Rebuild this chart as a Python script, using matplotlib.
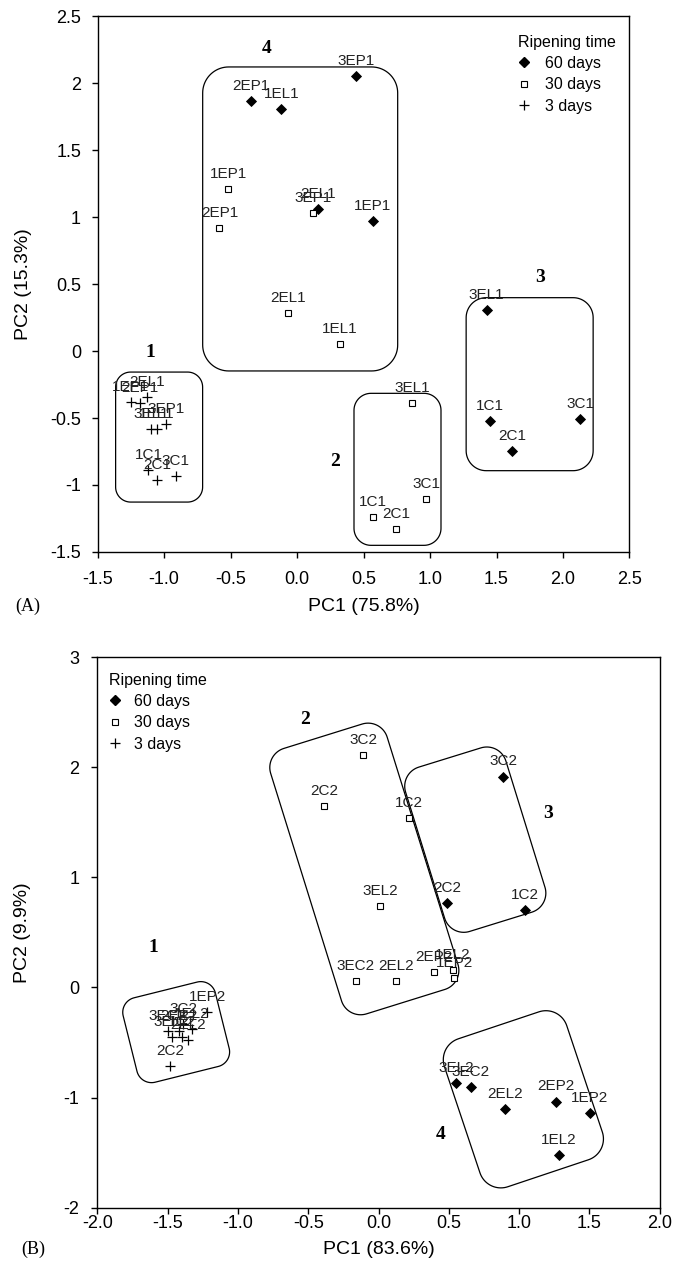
import numpy as np
import matplotlib
matplotlib.use("Agg")
import matplotlib.pyplot as plt
from matplotlib.lines import Line2D
from matplotlib.patches import PathPatch
from matplotlib.path import Path
from matplotlib.transforms import Affine2D, ScaledTranslation

plt.rcParams['font.family'] = ['Liberation Sans', 'DejaVu Sans']
plt.rcParams['axes.unicode_minus'] = False

# ---- panel A (PCA, first season) ----
a60_names = ["3EP1", "2EP1", "1EL1", "2EL1", "1EP1", "3EL1", "1C1", "2C1", "3C1"]
a60_x = [0.441, -0.346, -0.118, 0.160, 0.569, 1.426, 1.451, 1.619, 2.128]
a60_y = [2.051, 1.868, 1.811, 1.063, 0.973, 0.305, -0.520, -0.745, -0.505]

a30_names = ["1EP1", "2EP1", "3EP1", "2EL1", "1EL1", "3EL1", "3C1", "1C1", "2C1"]
a30_x = [-0.517, -0.584, 0.118, -0.068, 0.321, 0.867, 0.970, 0.569, 0.744]
a30_y = [1.213, 0.920, 1.028, 0.281, 0.053, -0.387, -1.105, -1.238, -1.328]

a3_names = ["1EP1", "2EP1", "2EL1", "3EP1", "3EL1", "1EL1", "1C1", "2C1", "3C1"]
a3_x = [-1.250, -1.180, -1.126, -0.985, -1.100, -1.055, -1.118, -1.055, -0.912]
a3_y = [-0.380, -0.387, -0.342, -0.542, -0.580, -0.580, -0.887, -0.962, -0.930]

# ---- panel B (PCA, second season) ----
b60_names = ["3C2", "2C2", "1C2", "3EL2", "3EC2", "2EL2", "2EP2", "1EP2", "1EL2"]
b60_x = [0.886, 0.488, 1.040, 0.554, 0.654, 0.898, 1.260, 1.502, 1.284]
b60_y = [1.915, 0.770, 0.704, -0.870, -0.906, -1.104, -1.037, -1.137, -1.521]

b30_names = ["3C2", "2C2", "1C2", "3EL2", "3EC2", "2EL2", "2EP2", "1EL2", "1EP2"]
b30_x = [-0.109, -0.389, 0.218, 0.009, -0.161, 0.123, 0.395, 0.526, 0.537]
b30_y = [2.112, 1.649, 1.537, 0.740, 0.059, 0.059, 0.141, 0.159, 0.089]

b3_names = ["1EP2", "3C2", "3EC2", "1EL2", "2EP2", "2EL2", "1C2", "3EL2", "2C2"]
b3_x = [-1.218, -1.389, -1.500, -1.330, -1.420, -1.353, -1.400, -1.471, -1.483]
b3_y = [-0.220, -0.334, -0.400, -0.380, -0.400, -0.477, -0.450, -0.447, -0.713]

legend_labels = ["60 days", "30 days", "3 days"]

# cluster outlines: centre (data), width/height/radius (pixels), rotation (deg)
a_boxes = [(0.023, 0.987, 195, 304, 0, 26), (-1.038, -0.642, 87, 130, 0, 15),
           (0.755, -0.883, 87, 152, 0, 17), (1.749, -0.247, 127, 173, 0, 20)]
b_boxes = [(-1.439, -0.406, 95, 87, 14, 15), (-0.101, 1.076, 122, 278, 17.3, 20),
           (0.688, 1.342, 105, 172, 17.2, 20), (1.030, -1.016, 129, 156, 18.5, 22)]
a_cluster = [("1", -1.105, -0.012), ("2", 0.286, -0.825), ("3", 1.827, 0.551), ("4", -0.231, 2.26)]
b_cluster = [("1", -1.60, 0.36), ("2", -0.519, 2.43), ("3", 1.205, 1.582), ("4", 0.443, -1.340)]


def rounded_rect(w, h, r, n=20):
    pts = []
    for cx, cy, a0 in [(w/2 - r, h/2 - r, 0), (-w/2 + r, h/2 - r, 90),
                       (-w/2 + r, -h/2 + r, 180), (w/2 - r, -h/2 + r, 270)]:
        t = np.radians(np.linspace(a0, a0 + 90, n))
        pts += list(zip(cx + r*np.cos(t), cy + r*np.sin(t)))
    pts.append(pts[0])
    return Path(pts, closed=True)


def draw_box(ax, cx, cy, w, h, ang, r):
    tr = Affine2D().rotate_deg(ang) + ScaledTranslation(cx, cy, ax.transData)
    ax.add_patch(PathPatch(rounded_rect(w, h, r), transform=tr, fc='none',
                           ec='black', lw=0.9, clip_on=False))


def scatter_group(ax, xs, ys, names, marker, ms, mfc, mew):
    ax.plot(xs, ys, ls='none', marker=marker, ms=ms, mfc=mfc, mec='black',
            color='black', mew=mew, zorder=3)
    for n, x, y in zip(names, xs, ys):
        ax.annotate(n, (x, y), xytext=(0, 8), textcoords='offset points',
                    ha='center', va='baseline', fontsize=11, color='#222222')


def panel(ax, groups, boxes, clusters):
    scatter_group(ax, *groups[0], 'D', 5.4, 'black', 0.6)
    scatter_group(ax, *groups[1], 's', 5.0, 'white', 0.8)
    scatter_group(ax, *groups[2], '+', 7.5, 'black', 0.9)
    for b in boxes:
        draw_box(ax, *b)
    for t, x, y in clusters:
        ax.text(x, y, t, family=['Liberation Serif'], fontweight='bold',
                fontsize=14, ha='center', va='center')
    for s in ax.spines.values():
        s.set_linewidth(1.0)
    ax.tick_params(direction='out', length=4, width=1.0, labelsize=13)


fig = plt.figure(figsize=(6.9, 12.7), dpi=100)

axA = fig.add_axes([0.1416, 0.5654, 0.7707, 0.4217])
axA.set_xlim(-1.5, 2.5)
axA.set_ylim(-1.5, 2.5)
panel(axA, [(a60_x, a60_y, a60_names), (a30_x, a30_y, a30_names), (a3_x, a3_y, a3_names)],
      a_boxes, a_cluster)
xt = np.arange(-1.5, 2.51, 0.5)
axA.set_xticks(xt, ["%.1f" % v for v in xt])
axA.set_yticks(xt, ["%g" % v for v in xt])
axA.tick_params(axis='x', pad=9.5)
axA.tick_params(axis='y', pad=8)
axA.set_xlabel("PC1 (75.8%)", fontsize=14, va='top')
axA.set_ylabel("PC2 (15.3%)", fontsize=14)
axA.xaxis.set_label_coords(0.5, -0.086)
axA.yaxis.set_label_coords(-0.124, 0.5)

axB = fig.add_axes([0.1410, 0.0491, 0.8152, 0.4335])
axB.set_xlim(-2.0, 2.0)
axB.set_ylim(-2, 3)
panel(axB, [(b60_x, b60_y, b60_names), (b30_x, b30_y, b30_names), (b3_x, b3_y, b3_names)],
      b_boxes, b_cluster)
xt = np.arange(-2.0, 2.01, 0.5)
axB.set_xticks(xt, ["%.1f" % v for v in xt])
yt = np.arange(-2, 3.1, 1)
axB.set_yticks(yt, ["%d" % v for v in yt])
axB.tick_params(axis='x', pad=1.5)
axB.tick_params(axis='y', pad=9)
axB.set_xlabel("PC1 (83.6%)", fontsize=14, va='top')
axB.set_ylabel("PC2 (9.9%)", fontsize=14)
axB.xaxis.set_label_coords(0.5, -0.061)
axB.yaxis.set_label_coords(-0.117, 0.5)

handles = [Line2D([], [], ls='none', marker='D', ms=5.4, color='black'),
           Line2D([], [], ls='none', marker='s', ms=5.0, mfc='white', mec='black', mew=0.8),
           Line2D([], [], ls='none', marker='+', ms=7.5, color='black', mew=0.9)]
for ax, anchor, tpad in [(axA, (0.79, 0.966), 0.9), (axB, (0.02, 0.972), 0.8)]:
    ax.legend(handles, legend_labels, title="Ripening time", loc='upper left',
              bbox_to_anchor=anchor, frameon=False, fontsize=11.5,
              title_fontsize=11.5, handlelength=0.8, handletextpad=tpad,
              labelspacing=0.4, borderpad=0, borderaxespad=0, alignment='left')

fig.text(28/690, 1 - 606.7/1270, "(A)", family=['Liberation Serif'], fontsize=13,
         ha='center', va='center')
fig.text(33/690, 1 - 1249/1270, "(B)", family=['Liberation Serif'], fontsize=13,
         ha='center', va='center')

fig.savefig("out.png", dpi=100)
